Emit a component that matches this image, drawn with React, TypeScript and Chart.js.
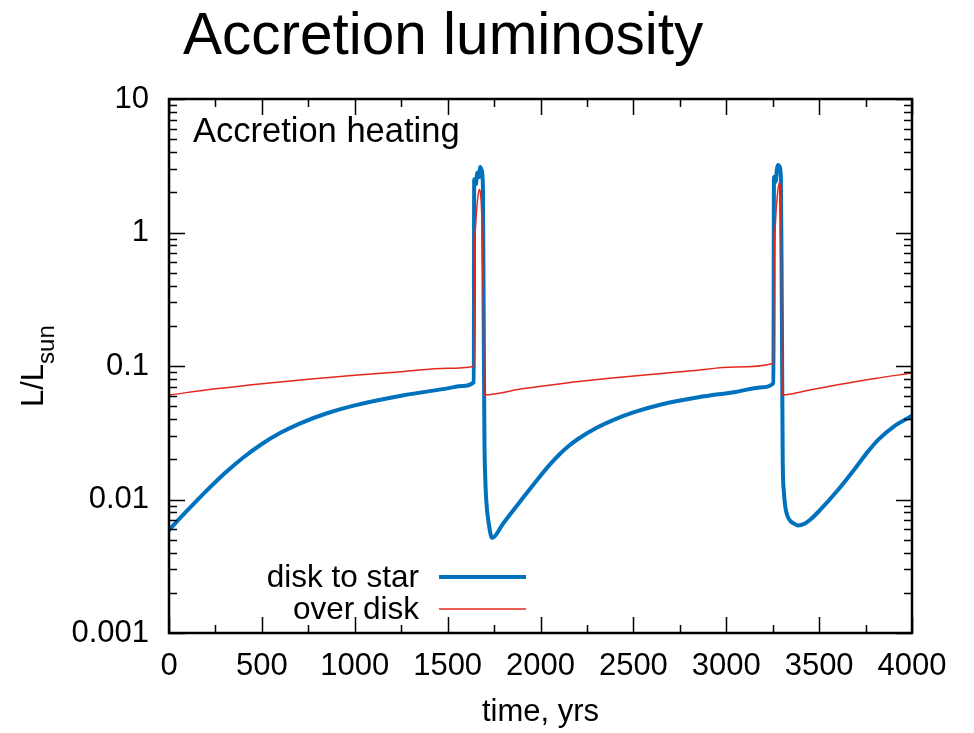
import { useEffect, useRef } from "react";
import { Chart, registerables } from "chart.js";

Chart.register(...registerables);

const FONT = "'Liberation Sans', Arial, Helvetica, sans-serif";

// ---- data (time in years, luminosity in L/Lsun) ----
const blueTime = [
  0, 100, 200, 300, 400, 500, 600, 700, 850, 1000, 1250, 1500, 1580, 1641,
  1643, 1652, 1660, 1668, 1676, 1684, 1690, 1694, 1698, 1703, 1708, 1723, 1739,
  1800, 1900, 2000, 2050, 2100, 2150, 2200, 2300, 2400, 2500, 2650, 2850, 3050, 3200, 3254,
  3257, 3266, 3273, 3280, 3288, 3294, 3299, 3304, 3310, 3318, 3330, 3345, 3365, 3386,
  3420, 3450, 3500, 3600, 3700, 3760, 3820, 3900, 4000,
];
const blueLum = [
  0.0059, 0.00831, 0.01156, 0.01573, 0.02065, 0.02606, 0.03158, 0.0369, 0.04426, 0.0507, 0.05989, 0.068, 0.07087, 0.0755,
  2.5, 2.3, 2.8, 2.6, 3.1, 2.9, 2.2, 0.25, 0.03, 0.014, 0.0098, 0.0064, 0.00515,
  0.00664, 0.01005, 0.01507, 0.01824, 0.02165, 0.02505, 0.02826, 0.03426, 0.0398, 0.0449, 0.05148, 0.0583, 0.06391, 0.06944, 0.0745,
  2.6, 2.4, 3.0, 3.2, 3.1, 2.6, 0.3, 0.02, 0.0115, 0.0088, 0.0075, 0.0069, 0.0066, 0.0064,
  0.00657, 0.00702, 0.0082, 0.01172, 0.01754, 0.02264, 0.02824, 0.03507, 0.0424,
];
const redTime = [
  0, 250, 500, 750, 1000, 1250, 1500, 1641,
  1644, 1650, 1660, 1670, 1676, 1684, 1692, 1697,
  1900, 2100, 2400, 2800, 3050, 3254,
  3258, 3265, 3275, 3286, 3292, 3297, 3301,
  3450, 3600, 3800, 4000,
];
const redLum = [
  0.0607, 0.06746, 0.07378, 0.07965, 0.08521, 0.09067, 0.09616, 0.0997,
  0.6, 1.1, 1.7, 2.1, 2.0, 1.3, 0.3, 0.0607,
  0.06741, 0.07336, 0.08152, 0.0917, 0.09835, 0.1045,
  0.6, 1.2, 1.9, 2.35, 2.0, 0.6, 0.0607,
  0.06617, 0.07228, 0.08054, 0.08851,
];

const seriesLabels = ["disk to star", "over disk"];
const xMajorTicks = [0, 500, 1000, 1500, 2000, 2500, 3000, 3500, 4000];
const xTickLabels = ["0", "500", "1000", "1500", "2000", "2500", "3000", "3500", "4000"];
const xMinorTicks = [250, 750, 1250, 1750, 2250, 2750, 3250, 3750];
const yMajorTicks = [0.001, 0.01, 0.1, 1, 10];
const yTickLabels = ["0.001", "0.01", "0.1", "1", "10"];
const yMinorMultipliers = [2, 3, 4, 5, 6, 7, 8, 9];

const chartTitle = "Accretion luminosity";
const panelLabel = "Accretion heating";
const xTitle = "time, yrs";

const BLUE = "#0072bd";
const RED = "#e4281c";

const decorPlugin = {
  id: "decor",
  afterDatasetsDraw(chart: any) {
    const ctx = chart.ctx as CanvasRenderingContext2D;
    const { left, right, top, bottom } = chart.chartArea;
    const xs = chart.scales.x;
    const ys = chart.scales.y;
    ctx.save();
    ctx.strokeStyle = "#000";
    // ticks (inward, mirrored)
    ctx.lineWidth = 1.5;
    const major = 16;
    const minor = 8;
    ctx.beginPath();
    for (const v of xMajorTicks) {
      const p = Math.round(xs.getPixelForValue(v)) + 0.5;
      ctx.moveTo(p, bottom); ctx.lineTo(p, bottom - major);
      ctx.moveTo(p, top); ctx.lineTo(p, top + major);
    }
    for (const v of xMinorTicks) {
      const p = Math.round(xs.getPixelForValue(v)) + 0.5;
      ctx.moveTo(p, bottom); ctx.lineTo(p, bottom - minor);
      ctx.moveTo(p, top); ctx.lineTo(p, top + minor);
    }
    for (const v of yMajorTicks) {
      const p = Math.round(ys.getPixelForValue(v)) + 0.5;
      ctx.moveTo(left, p); ctx.lineTo(left + major, p);
      ctx.moveTo(right, p); ctx.lineTo(right - major, p);
      if (v < 10) {
        for (const m of yMinorMultipliers) {
          const q = Math.round(ys.getPixelForValue(v * m)) + 0.5;
          ctx.moveTo(left, q); ctx.lineTo(left + minor, q);
          ctx.moveTo(right, q); ctx.lineTo(right - minor, q);
        }
      }
    }
    ctx.stroke();
    // frame
    ctx.lineWidth = 2.5;
    ctx.strokeRect(left, top, right - left, bottom - top);

    ctx.fillStyle = "#000";
    // main title
    ctx.textAlign = "left";
    ctx.textBaseline = "alphabetic";
    ctx.font = `58.5px ${FONT}`;
    ctx.fillText(chartTitle, 183, 54);
    // panel label
    ctx.font = `34.5px ${FONT}`;
    ctx.fillText(panelLabel, 193, 142);

    // y-axis title L/L_sun
    ctx.save();
    ctx.translate(43, 407);
    ctx.rotate(-Math.PI / 2);
    ctx.font = `31px ${FONT}`;
    ctx.fillText("L/L", 0, 0);
    const w = ctx.measureText("L/L").width;
    ctx.font = `24px ${FONT}`;
    ctx.fillText("sun", w, 11);
    ctx.restore();

    // legend
    ctx.font = `31.5px ${FONT}`;
    ctx.textAlign = "right";
    const rows = [577, 609];
    chart.data.datasets.forEach((ds: any, i: number) => {
      const y = rows[i];
      ctx.fillStyle = "#000";
      ctx.fillText(ds.label, 419, y + 10);
      ctx.strokeStyle = ds.borderColor;
      ctx.lineWidth = ds.borderWidth;
      ctx.beginPath();
      ctx.moveTo(439, y);
      ctx.lineTo(526, y);
      ctx.stroke();
    });
    ctx.restore();
  },
};

export default function App() {
  const ref = useRef<HTMLCanvasElement | null>(null);
  useEffect(() => {
    if (!ref.current) return;
    const chart = new Chart(ref.current, {
      type: "line",
      data: {
        datasets: [
          {
            label: seriesLabels[0],
            data: blueTime.map((t, i) => ({ x: t, y: blueLum[i] })),
            borderColor: BLUE,
            borderWidth: 4,
            pointRadius: 0,
            cubicInterpolationMode: "monotone",
            order: 1,
          },
          {
            label: seriesLabels[1],
            data: redTime.map((t, i) => ({ x: t, y: redLum[i] })),
            borderColor: RED,
            borderWidth: 1.5,
            pointRadius: 0,
            cubicInterpolationMode: "monotone",
            order: 0,
          },
        ],
      },
      options: {
        responsive: false,
        animation: false,
        layout: { padding: { top: 99, right: 62, left: 0, bottom: 0 } },
        plugins: {
          legend: { display: false },
          tooltip: { enabled: false },
          title: { display: false },
        },
        scales: {
          x: {
            type: "linear",
            min: 0,
            max: 4000,
            grid: { display: false, drawTicks: false },
            border: { display: false },
            ticks: {
              autoSkip: false,
              maxRotation: 0,
              color: "#000",
              font: { family: FONT, size: 31 },
              padding: 15,
              callback: (v: any) => {
                const i = xMajorTicks.indexOf(Number(v));
                return i >= 0 ? xTickLabels[i] : "";
              },
            },
            afterBuildTicks: (s: any) => {
              s.ticks = xMajorTicks.map((v) => ({ value: v }));
            },
            title: {
              display: true,
              text: xTitle,
              color: "#000",
              font: { family: FONT, size: 31 },
              padding: { top: 0, bottom: 2 },
            },
            afterFit: (s: any) => {
              s.height = 100;
            },
          },
          y: {
            type: "logarithmic",
            min: 0.001,
            max: 10,
            grid: { display: false, drawTicks: false },
            border: { display: false },
            ticks: {
              autoSkip: false,
              color: "#000",
              font: { family: FONT, size: 31 },
              padding: 20,
              callback: (v: any) => {
                const i = yMajorTicks.findIndex((t) => Math.abs(t - Number(v)) < t * 1e-6);
                return i >= 0 ? yTickLabels[i] : "";
              },
            },
            afterBuildTicks: (s: any) => {
              s.ticks = yMajorTicks.map((v) => ({ value: v }));
            },
            afterFit: (s: any) => {
              s.width = 169;
            },
          },
        },
      } as any,
      plugins: [decorPlugin],
    });
    return () => chart.destroy();
  }, []);
  return (
    <div style={{ position: "absolute", left: 0, top: 0, width: 974, height: 733, background: "#fff" }}>
      <canvas ref={ref} width={974} height={733} style={{ display: "block" }} />
    </div>
  );
}
